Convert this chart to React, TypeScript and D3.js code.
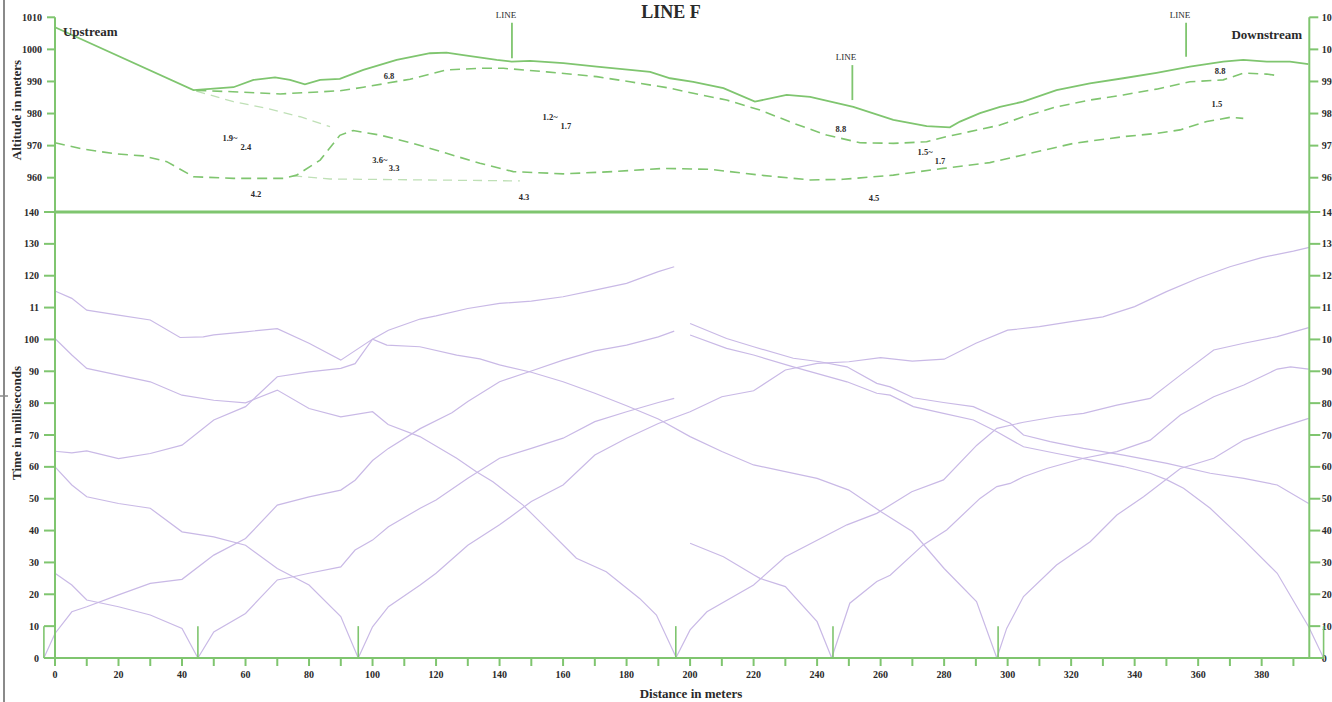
import React from "react";
import * as d3 from "d3";

type P = [number, number];

// ---------- axis ticks ----------
const altTicks = [960, 970, 980, 990, 1000, 1010];
const altTickLabels = ["960", "970", "980", "990", "1000", "1010"];
const timeTicks = [0, 10, 20, 30, 40, 50, 60, 70, 80, 90, 100, 110, 120, 130, 140];
const timeTickLabels = ["0", "10", "20", "30", "40", "50", "60", "70", "80", "90", "100", "11", "120", "130", "140"];
const distTicks = [0, 10, 20, 30, 40, 50, 60, 70, 80, 90, 100, 110, 120, 130, 140, 150, 160, 170, 180, 190, 200, 210, 220, 230, 240, 250, 260, 270, 280, 290, 300, 310, 320, 330, 340, 350, 360, 370, 380, 390];
const distLabels = [0, 20, 40, 60, 80, 100, 120, 140, 160, 180, 200, 220, 240, 260, 280, 300, 320, 340, 360, 380];

// ---------- top panel: altitude profile ----------
const surface: P[] = [
  [0, 1006.9], [43.6, 987.3], [47.8, 987.6], [56.2, 988.2], [62.5, 990.5], [69.3, 991.3], [74, 990.5],
  [78.7, 989.1], [83.5, 990.5], [89.7, 990.8], [97.1, 993.6], [107.6, 996.7], [118.1, 998.8], [123.3, 999],
  [128.6, 998.2], [139.1, 996.7], [143.8, 996.2], [149.6, 996.4], [160.1, 995.7], [170.6, 994.6], [181.1, 993.6],
  [187.4, 993], [193.7, 991], [201, 989.9], [210.5, 987.9], [220.4, 983.7], [230.4, 985.8], [237.8, 985.2],
  [251.4, 982.1], [264, 978], [274.5, 976.1], [281.8, 975.7], [285, 977.5], [291.3, 980.1], [297.6, 982.1],
  [304.9, 983.7], [315.4, 987.3], [325.9, 989.4], [336.4, 991], [346.9, 992.7], [357.4, 994.6], [367.9, 996.2],
  [374.2, 996.7], [381.6, 996.2], [388.9, 996.2], [394.7, 995.4],
];
const interfaceUpper: P[] = [
  [44.5, 987.2], [56, 986.8], [70.9, 986.1], [89.7, 987.1], [97.1, 988.2], [111.8, 990.7], [123.3, 993.6],
  [133.8, 994.1], [141.2, 994.1], [154.8, 993], [170.6, 991.5], [181.1, 989.9], [193.7, 987.9], [201, 986.3],
  [211.5, 984.2], [222, 981.1], [232.5, 977], [243, 973.3], [253.5, 970.9], [264, 970.7], [274.5, 971.2],
  [280.8, 972.8], [297.6, 976.4], [304.9, 979], [315.4, 982.1], [325.9, 984.2], [336.4, 985.8], [346.9, 987.6],
  [357.4, 989.9], [367.9, 990.5], [374.2, 992.6], [381.6, 992.3], [385.8, 991.7],
];
const interfaceUpperFaint: P[] = [
  [44.5, 987.0], [56.2, 983.7], [66.7, 981.6], [77.2, 979], [86.6, 975.9],
];
const interfaceLower: P[] = [
  [0, 970.9], [8.9, 968.9], [19.4, 967.4], [27.8, 966.8], [35.2, 965], [43.6, 960.3], [56.2, 959.8],
  [71.9, 959.8], [76.1, 960.8], [83.5, 965.5], [89.7, 973.2], [93.9, 974.7], [102.3, 973.3], [112.8, 970.7],
  [123.3, 967.6], [133.8, 964.5], [144.3, 961.9], [160.1, 961.2], [175.8, 961.9], [191.6, 962.9], [206.3, 962.6],
  [222, 960.8], [237.8, 959.3], [248.2, 959.5], [264, 960.8], [279.7, 962.9], [294.4, 964.7], [304.9, 967.1],
  [320.7, 970.7], [336.4, 972.8], [346.9, 973.8], [354.3, 974.9], [362.7, 977.5], [370, 978.8], [374.2, 978.5],
];
const interfaceLowerFaint: P[] = [
  [75, 960.6], [86.6, 959.6], [146.4, 959],
];

// velocity labels: [text, distance, altitude]
const velocityLabels: [string, number, number][] = [
  ["6.8", 105.2, 990.8], ["1.9~", 55.1, 971.4], ["2.4", 60.1, 968.6], ["4.2", 63.3, 954.0],
  ["3.6~", 102.3, 964.6], ["3.3", 106.8, 962.1], ["1.2~", 155.9, 978.0], ["1.7", 160.9, 975.2],
  ["4.3", 147.7, 953.0], ["8.8", 247.5, 974.2], ["1.5~", 274.0, 967.1], ["1.7", 278.7, 964.3],
  ["4.5", 257.9, 952.7], ["8.8", 366.9, 992.3], ["1.5", 365.9, 982.0],
];
// crossing lines: [label distance, line distance, top altitude, bottom altitude, label altitude]
const crossingLines: [number, number, number, number, number][] = [
  [142, 143.9, 1008.3, 997.2, 1009.8],
  [249.1, 251.1, 995.1, 984.2, 996.7],
  [354.3, 356.2, 1008.3, 997.7, 1009.8],
];

// ---------- bottom panel: travel time curves ----------
const shotPoints = [-3.5, 45, 95.5, 195.5, 245, 297, 399.5];

const fwdShotA: P[] = [
  [-3.5, 0], [0, 7.7], [5.3, 14.5], [10, 16.1], [20, 19.8], [30, 23.4], [40, 24.7], [50, 32.3], [60, 37.5],
  [70, 48], [80, 50.6], [90, 52.7], [94.5, 55.8], [100, 62], [105, 65.8], [115, 72], [125, 77], [130, 80.5],
  [140, 86.7], [150, 90.1], [160, 93.5], [170, 96.4], [180, 98.2], [190, 100.8], [195, 102.6],
];
const fwdShotB: P[] = [
  [45, 0], [50, 8.2], [60, 14], [70, 24.5], [75, 25.5], [80, 26.6], [90, 28.6], [94.5, 33.9], [100, 37],
  [105, 41.2], [115, 47], [120, 49.6], [130, 56.4], [140, 62.7], [150, 65.8], [160, 69], [170, 74.2],
  [180, 77.3], [190, 80.2], [195, 81.5],
];
const fwdShotC: P[] = [
  [95.5, 0], [100, 9.8], [105, 16.1], [115, 22.9], [120, 26.6], [130, 35.4], [140, 41.8], [150, 49.1],
  [160, 54.3], [170, 63.7], [180, 69], [190, 73.6], [200, 77.3], [210, 82], [220, 83.9], [230, 90.4],
  [240, 92.5], [250, 93], [260, 94.3], [270, 93.2], [280, 93.8], [290, 98.8], [300, 102.9], [310, 104],
  [320, 105.6], [330, 107.1], [340, 110.3], [350, 115], [360, 119.2], [370, 122.8], [380, 125.7],
  [390, 127.7], [395, 128.9],
];
const fwdOffset: P[] = [
  [0, 64.9], [5.3, 64.4], [10, 65], [20, 62.6], [30, 64.2], [40, 66.8], [50, 74.7], [60, 78.9], [70, 88.3],
  [80, 89.8], [90, 90.9], [94.5, 92.4], [100, 100.1], [105, 102.9], [115, 106.4], [120, 107.4], [130, 109.7],
  [140, 111.3], [150, 112], [160, 113.4], [170, 115.5], [180, 117.6], [190, 121.3], [195, 122.8],
];
const revShotB: P[] = [
  [0, 26.6], [5.3, 22.9], [10, 18.2], [20, 16.1], [30, 13.5], [40, 9.3], [45, 0],
];
const revShotC: P[] = [
  [0, 60], [5.3, 54.3], [10, 50.6], [20, 48.5], [30, 47], [40, 39.6], [50, 38], [60, 35.4], [70, 28.1],
  [80, 22.9], [90, 13], [95.5, 0],
];
const revShotD: P[] = [
  [0, 100.3], [5.3, 95.1], [10, 90.9], [20, 88.8], [30, 86.7], [40, 82.5], [50, 80.9], [60, 80.1], [70, 84.1],
  [80, 78.3], [90, 75.7], [100, 77.3], [104.9, 73.3], [114.9, 69.5], [126.5, 62.7], [132.7, 58.5],
  [137.9, 55.3], [147.4, 48], [153.7, 41.8], [164.2, 31.3], [173.6, 27.1], [184.1, 18.7], [189.4, 13.5],
  [195.7, 0],
];
const revShotF: P[] = [
  [0, 115.2], [5.3, 112.9], [10, 109.2], [20, 107.6], [30, 106.1], [39.4, 100.6], [46.7, 100.8], [50, 101.4],
  [60, 102.4], [70, 103.4], [80, 98.8], [90, 93.5], [100, 100.1], [104.5, 98.2], [114.9, 97.7], [126.5, 95.1],
  [133.8, 93.9], [140, 92], [150, 89.7], [160, 86.7], [170, 83.1], [180, 79.2], [190, 75], [200, 69.5],
  [210, 64.8], [220, 60.6], [230, 58.5], [240, 56.4], [250, 52.7], [260, 46], [270, 39.7], [280, 28.1],
  [290.2, 17.7], [296.6, 0],
];
const fwdShotD: P[] = [
  [195.5, 0], [200, 8.8], [205.3, 14.5], [220, 22.9], [230, 31.8], [249.4, 41.8], [258.8, 45.4],
  [269.8, 52.2], [279.8, 55.9], [290.3, 66.8], [296.6, 72.1], [305, 74], [315.5, 75.8], [323.9, 76.8],
  [334.4, 79.4], [344.9, 81.5], [354.4, 88.8], [364.9, 96.7], [374.4, 98.8], [384.9, 100.9], [394.8, 103.7],
];
const fwdShotE: P[] = [
  [244.6, 0], [250.3, 17.2], [258.8, 24], [263, 26], [273.4, 35.5], [280.8, 40.2], [291.3, 50.1],
  [296.6, 53.8], [300.8, 54.8], [305, 56.9], [312.3, 59.5], [323.9, 62.7], [334.4, 64.8], [344.9, 68.4],
  [354.4, 76.3], [364.9, 82], [374.4, 85.7], [384.9, 90.7], [389.1, 91.4], [394.8, 90.7],
];
const fwdShotF: P[] = [
  [296.6, 0], [299.7, 9.3], [305, 19.3], [315.4, 29.2], [326, 36.5], [334.4, 44.9], [342.8, 50.6],
  [354.4, 59.5], [364.9, 62.7], [374.4, 68.4], [384.9, 72.1], [394.8, 75.2],
];
const revShotE: P[] = [
  [200, 36], [210.5, 31.8], [220, 26.1], [222, 25], [230, 22.4], [240, 11.4], [244.6, 0],
];
const revShotG: P[] = [
  [200, 101.4], [211.5, 97.2], [220, 95.1], [232.5, 91.4], [249.4, 86.7], [258.8, 83.1], [263, 82.5],
  [270.3, 78.9], [279.8, 76.8], [289.2, 74.7], [296.6, 71], [305, 66.3], [315.5, 64.2], [326, 62.2],
  [336.5, 60.1], [344.9, 58], [350.2, 55.9], [355.4, 53.3], [363.8, 47], [374.4, 37], [384.9, 26.6],
  [394.8, 9.8], [399.5, 0],
];
const revOffset: P[] = [
  [200, 105], [211.5, 100.3], [220, 97.7], [232.5, 94.1], [240.9, 93], [249.4, 91.4], [258.8, 86.2],
  [263, 85.1], [270.3, 81.7], [279.8, 80.2], [289.2, 78.9], [300.8, 73.7], [305, 70], [313.4, 67.9],
  [323.9, 65.8], [336.5, 63.7], [350.2, 61.1], [363.8, 58], [374.4, 56.4], [384.9, 54.3], [394.8, 48.5],
];
const travelCurves: P[][] = [
  fwdShotA, fwdShotB, fwdShotC, fwdOffset, revShotB, revShotC, revShotD, revShotF,
  fwdShotD, fwdShotE, fwdShotF, revShotE, revShotG, revOffset,
];

// ---------- styling ----------
const GREEN = "#7fc56f";
const GREEN_FAINT = "#bfe0b6";
const PURPLE = "#c9b9e6";
const TEXT = "#2a2a2a";
const FONT = "'Liberation Serif', 'Times New Roman', serif";

const W = 1332;
const H = 702;

export default function App() {
  const x = d3.scaleLinear().domain([0, 395]).range([55, 1309.3]);
  const yAlt = d3.scaleLinear().domain([960, 1010]).range([177.7, 17.3]);
  const yT = d3.scaleLinear().domain([0, 140]).range([658, 212]);

  const altLine = d3.line<P>().x((d) => x(d[0])).y((d) => yAlt(d[1]));
  const timeLine = d3.line<P>().x((d) => x(d[0])).y((d) => yT(d[1]));

  const xL = x(0);
  const xR = x(395);

  return (
    <div>
      <style>{`body{margin:0;} svg{display:block;}`}</style>
      <svg width={W} height={H} style={{ fontFamily: FONT, overflow: "hidden" }}>
        <rect width={W} height={H} fill="#ffffff" />
        {/* left frame line */}
        <line x1={4} x2={4} y1={0} y2={H} stroke="#8a8a8a" strokeWidth={2} />
        <line x1={0} x2={8} y1={396} y2={396} stroke="#8a8a8a" strokeWidth={1.5} />

        {/* title */}
        <text x={671} y={18} textAnchor="middle" fontSize={18} fontWeight={700} fill={TEXT}>LINE F</text>

        {/* ---------- top panel ---------- */}
        {altTicks.map((t, i) => (
          <g key={"al" + t}>
            <line x1={47} x2={xL} y1={yAlt(t)} y2={yAlt(t)} stroke={GREEN} strokeWidth={2} />
            <text x={42} y={yAlt(t) + 3.5} textAnchor="end" fontSize={10} fontWeight={700} fill={TEXT}>{altTickLabels[i]}</text>
            <line x1={xR} x2={xR + 9} y1={yAlt(t)} y2={yAlt(t)} stroke={GREEN} strokeWidth={2} />
            <text x={xR + 12.5} y={yAlt(t) + 3.5} fontSize={10} fontWeight={700} fill={TEXT}>{altTickLabels[i]}</text>
          </g>
        ))}
        <path d={altLine(interfaceUpperFaint) || ""} fill="none" stroke={GREEN_FAINT} strokeWidth={1.3} strokeDasharray="9,6" />
        <path d={altLine(interfaceLowerFaint) || ""} fill="none" stroke={GREEN_FAINT} strokeWidth={1.3} strokeDasharray="9,6" />
        <path d={altLine(interfaceUpper) || ""} fill="none" stroke={GREEN} strokeWidth={1.6} strokeDasharray="10,6" />
        <path d={altLine(interfaceLower) || ""} fill="none" stroke={GREEN} strokeWidth={1.6} strokeDasharray="10,6" />
        <path d={altLine(surface) || ""} fill="none" stroke={GREEN} strokeWidth={1.8} />

        {crossingLines.map((c, i) => (
          <g key={"cl" + i}>
            <line x1={x(c[1])} x2={x(c[1])} y1={yAlt(c[2])} y2={yAlt(c[3])} stroke={GREEN} strokeWidth={1.8} />
            <text x={x(c[0])} y={yAlt(c[4])} textAnchor="middle" fontSize={9} fill={TEXT}>LINE</text>
          </g>
        ))}
        {velocityLabels.map((v, i) => (
          <text key={"vl" + i} x={x(v[1])} y={yAlt(v[2])} textAnchor="middle" fontSize={8.5} fontWeight={700} fill={TEXT}>{v[0]}</text>
        ))}
        <text x={x(2.5)} y={yAlt(1004.2)} fontSize={13} fontWeight={700} fill={TEXT}>Upstream</text>
        <text x={x(392.7)} y={yAlt(1003.1)} textAnchor="end" fontSize={13} fontWeight={700} fill={TEXT}>Downstream</text>

        <text transform={`translate(21,110) rotate(-90)`} textAnchor="middle" fontSize={13} fontWeight={700} fill={TEXT}>Altitude in meters</text>

        {/* ---------- bottom panel ---------- */}
        {timeTicks.map((t, i) => (
          <g key={"tl" + t}>
            <line x1={44} x2={xL} y1={yT(t)} y2={yT(t)} stroke={GREEN} strokeWidth={2} />
            <text x={39} y={yT(t) + 3.5} textAnchor="end" fontSize={10} fontWeight={700} fill={TEXT}>{timeTickLabels[i]}</text>
            <line x1={xR} x2={xR + 11} y1={yT(t)} y2={yT(t)} stroke={GREEN} strokeWidth={2} />
            <text x={xR + 12.5} y={yT(t) + 3.5} fontSize={10} fontWeight={700} fill={TEXT}>{timeTickLabels[i]}</text>
          </g>
        ))}
        {distTicks.map((d) => (
          <line key={"dt" + d} x1={x(d)} x2={x(d)} y1={yT(0)} y2={yT(0) + 8} stroke={GREEN} strokeWidth={2} />
        ))}
        {distLabels.map((d) => (
          <text key={"dl" + d} x={x(d)} y={678} textAnchor="middle" fontSize={10} fontWeight={700} fill={TEXT}>{d}</text>
        ))}
        <text x={691} y={698} textAnchor="middle" fontSize={13} fontWeight={700} fill={TEXT}>Distance in meters</text>
        <text transform={`translate(21,423) rotate(-90)`} textAnchor="middle" fontSize={13} fontWeight={700} fill={TEXT}>Time in milliseconds</text>

        {travelCurves.map((c, i) => (
          <path key={"tc" + i} d={timeLine(c) || ""} fill="none" stroke={PURPLE} strokeWidth={1.2} />
        ))}

        {shotPoints.map((s) => (
          <line key={"sp" + s} x1={x(s)} x2={x(s)} y1={yT(0)} y2={yT(10)} stroke={GREEN} strokeWidth={1.6} />
        ))}

        {/* axes frame */}
        <line x1={xL} x2={xL} y1={yAlt(1010)} y2={yT(0)} stroke={GREEN} strokeWidth={2} />
        <line x1={xR} x2={xR} y1={yAlt(1010)} y2={yT(0)} stroke={GREEN} strokeWidth={2} />
        <line x1={xL} x2={xR} y1={yT(140)} y2={yT(140)} stroke={GREEN} strokeWidth={3} />
        <line x1={x(-3.5)} x2={x(399.5)} y1={yT(0)} y2={yT(0)} stroke={GREEN} strokeWidth={2} />
      </svg>
    </div>
  );
}
